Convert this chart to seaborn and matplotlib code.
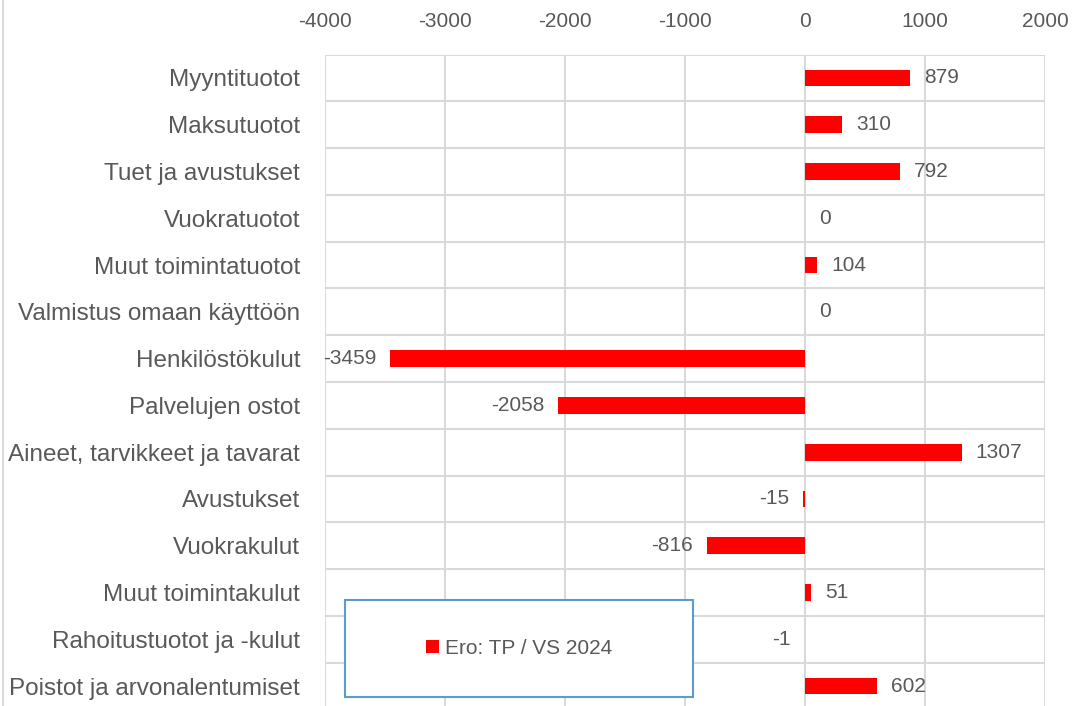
import matplotlib
matplotlib.use('Agg')
import pandas as pd
import seaborn as sns
from matplotlib import pyplot as plt
from matplotlib.patches import Rectangle

categories = [
    'Myyntituotot',
    'Maksutuotot',
    'Tuet ja avustukset',
    'Vuokratuotot',
    'Muut toimintatuotot',
    'Valmistus omaan käyttöön',
    'Henkilöstökulut',
    'Palvelujen ostot',
    'Aineet, tarvikkeet ja tavarat',
    'Avustukset',
    'Vuokrakulut',
    'Muut toimintakulut',
    'Rahoitustuotot ja -kulut',
    'Poistot ja arvonalentumiset',
]
values = [879, 310, 792, 0, 104, 0, -3459, -2058, 1307, -15, -816, 51, -1, 602]
series_name = 'Ero: TP / VS 2024'
x_ticks = [-4000, -3000, -2000, -1000, 0, 1000, 2000]

TEXT = '#595959'
GRID = '#d9d9d9'

df = pd.DataFrame({'Erä': categories, 'Arvo': values, 'Sarja': series_name})

sns.set_style('white')
plt.rcParams['font.family'] = ['Liberation Sans', 'DejaVu Sans']
plt.rcParams['axes.unicode_minus'] = False

fig = plt.figure(figsize=(10.76, 7.06), dpi=100)
ax = fig.add_axes([325 / 1076, 1 - 709.4 / 706, 720 / 1076, 654.8 / 706])

sns.barplot(data=df, y='Erä', x='Arvo', hue='Sarja', palette={series_name: '#FF0000'},
            orient='h', width=0.36, dodge=False, saturation=1, linewidth=0,
            ax=ax, zorder=3)

for c in ax.containers:
    ax.bar_label(c, labels=[str(v) for v in values], padding=10, fontsize=15, color=TEXT)

ax.set_xlim(-4000, 2000)
ax.set_ylim(len(categories) - 0.5, -0.5)
ax.set_xticks(x_ticks)
ax.xaxis.tick_top()
ax.tick_params(axis='x', length=0, pad=17, labelsize=15, labelcolor=TEXT)
ax.tick_params(axis='y', length=0, pad=18, labelsize=17.5, labelcolor=TEXT)
ax.set_xlabel('')
ax.set_ylabel('')
for s in ax.spines.values():
    s.set_visible(False)

for xv in x_ticks:
    ax.axvline(xv, color=GRID, lw=1.5, zorder=1)
for i in range(len(categories) + 1):
    ax.axhline(i - 0.5, color=GRID, lw=1.5, zorder=1)

# legend box
ax.legend_.remove()
box = Rectangle((0.028, 0.019), 0.483, 0.148, transform=ax.transAxes,
                facecolor='white', edgecolor='#5b9bd5', lw=1.5, zorder=5)
ax.add_patch(box)
handles, labels = ax.get_legend_handles_labels()
leg = ax.legend(handles, labels, loc='center', bbox_to_anchor=(0.028 + 0.483 / 2, 0.019 + 0.148 / 2),
                frameon=False, fontsize=15, labelcolor=TEXT, handlelength=0.6, handleheight=0.6,
                handletextpad=0.3)
leg.set_zorder(6)

# chart frame on the left
fig.add_artist(plt.Line2D([3 / 1076, 3 / 1076], [0, 1], color=GRID, lw=1.5))

fig.savefig('out.png', dpi=100)
